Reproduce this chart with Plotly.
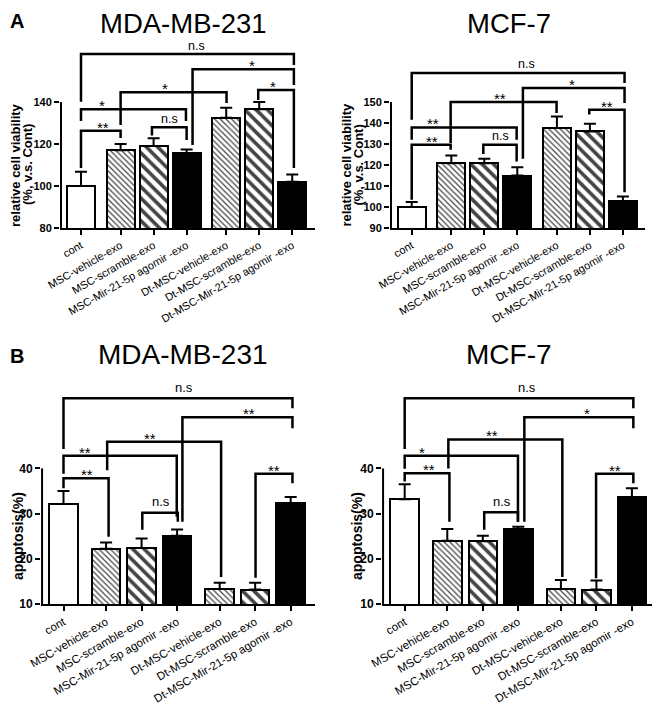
import plotly.graph_objects as go

# ---------------- data ----------------
categories = ["cont", "MSC-vehicle-exo", "MSC-scramble-exo", "MSC-Mir-21-5p agomir -exo",
              "Dt-MSC-vehicle-exo", "Dt-MSC-scramble-exo", "Dt-MSC-Mir-21-5p agomir -exo"]

via_mda_mean = [100, 117, 119, 115.5, 132.5, 136.5, 102]
via_mda_sem = [6.8, 3.0, 3.7, 1.9, 4.8, 3.5, 3.5]
via_mcf_mean = [100, 120.8, 120.8, 115, 137.6, 136, 102.7]
via_mcf_sem = [2.4, 3.7, 2.2, 3.9, 5.5, 3.7, 2.3]
apo_mda_mean = [32.1, 22.2, 22.4, 25.1, 13.3, 13.2, 32.3]
apo_mda_sem = [2.9, 1.4, 2.1, 1.4, 1.4, 1.5, 1.4]
apo_mcf_mean = [33.2, 24.0, 23.9, 26.6, 13.3, 13.2, 33.7]
apo_mcf_sem = [3.3, 2.6, 1.2, 0.5, 2.0, 2.0, 1.9]

yticks_via_mda = [80, 100, 120, 140]
yticks_via_mcf = [90, 100, 110, 120, 130, 140, 150]
yticks_apo = [10, 20, 30, 40]

# significance brackets: (left x, right x, top, left leg end, right leg end, label, label x)
sig_via_mda = [
    (0, 6.45, 162.9, 140.1, 157.6, "n.s", 3.5),
    (3.38, 6.45, 155.6, 119.5, 148.1, "*", 5.17),
    (5.37, 6.45, 145.7, 141.0, 108.6, "*", 5.82),
    (1.2, 4.41, 144.6, 129.0, 139.5, "*", 2.55),
    (0, 3.18, 136.5, 131.0, 131.0, "*", 0.63),
    (0, 1.2, 126.3, 108.6, 122.9, "**", 0.67),
    (2.15, 3.2, 128.0, 124.0, 121.9, "n.s", 2.67),
]
sig_via_mcf = [
    (0, 6.45, 163.8, 141.6, 159.0, "n.s", 3.48),
    (3.37, 6.45, 156.7, 123.0, 149.5, "*", 4.85),
    (5.38, 6.45, 146.3, 144.0, 107.0, "**", 5.91),
    (1.18, 4.39, 150.0, 130.5, 144.8, "**", 2.68),
    (0, 3.18, 137.9, 132.0, 132.0, "**", 0.64),
    (0, 1.18, 129.7, 103.5, 127.3, "**", 0.6),
    (2.17, 3.18, 129.7, 125.2, 121.7, "n.s", 2.68),
]
sig_apo_mda = [
    (0, 6.45, 55.5, 44.3, 53.3, "n.s", 3.4),
    (3.35, 6.45, 51.3, 28.2, 48.9, "**", 5.23),
    (5.41, 6.45, 38.8, 15.8, 36.7, "**", 5.93),
    (1.23, 4.44, 45.9, 39.6, 16.0, "**", 2.44),
    (0, 3.19, 42.8, 38.8, 29.3, "**", 0.61),
    (0, 1.27, 37.8, 35.6, 24.9, "**", 0.65),
    (2.22, 3.22, 30.2, 26.4, 28.2, "n.s", 2.75),
]
sig_apo_mcf = [
    (0, 6.44, 55.5, 44.3, 53.3, "n.s", 3.44),
    (3.37, 6.44, 51.3, 28.2, 48.9, "*", 5.13),
    (5.39, 6.44, 38.8, 15.7, 36.7, "**", 5.92),
    (1.23, 4.44, 46.4, 40.0, 16.0, "**", 2.45),
    (0, 3.19, 42.8, 39.9, 28.2, "*", 0.5),
    (0, 1.26, 38.9, 37.1, 28.2, "**", 0.69),
    (2.24, 3.19, 30.3, 26.4, 28.2, "n.s", 2.74),
]

# ---------------- styling / layout ----------------
PAGE_W, PAGE_H = 660, 705
OFF = 8                       # default page margin of the html body
W, H = PAGE_W - OFF, PAGE_H - OFF
FONT = "Liberation Sans, Arial, sans-serif"
x_pos = [0, 1.2, 2.2, 3.2, 4.4, 5.4, 6.4]


def fx(px):
    return (px - OFF) / W


def fy(py):
    return 1 - (py - OFF) / H


bar_color = ["white", "white", "white", "black", "white", "white", "black"]
pat_shape = ["", "\\", "\\", "", "\\", "\\", ""]
pat_size = [8, 4, 8, 8, 4, 8, 8]
pat_solid = [0.3, 0.3, 0.45, 0.3, 0.3, 0.45, 0.3]

panels = [
    dict(mean=via_mda_mean, sem=via_mda_sem, yticks=yticks_via_mda, sig=sig_via_mda,
         xpx=(60, 315), ypx=(228, 38), xr=[-0.636, 7.09], yr=[80, 170.48], bw=0.85,
         tfs=11, xfs=11, ns_shift=8, ns_size=12.5),
    dict(mean=via_mcf_mean, sem=via_mcf_sem, yticks=yticks_via_mcf, sig=sig_via_mcf,
         xpx=(390, 645), ypx=(228, 38), xr=[-0.658, 7.07], yr=[90, 180.48], bw=0.85,
         tfs=11, xfs=11, ns_shift=9, ns_size=12.5),
    dict(mean=apo_mda_mean, sem=apo_mda_sem, yticks=yticks_apo, sig=sig_apo_mda,
         xpx=(41, 315), ypx=(604, 378), xr=[-0.634, 7.085], yr=[10, 60], bw=0.8,
         tfs=12, xfs=11.5, ns_shift=11, ns_size=13),
    dict(mean=apo_mcf_mean, sem=apo_mcf_sem, yticks=yticks_apo, sig=sig_apo_mcf,
         xpx=(382, 655), ypx=(604, 378), xr=[-0.639, 7.05], yr=[10, 60], bw=0.8,
         tfs=12, xfs=11.5, ns_shift=11, ns_size=13),
]

fig = go.Figure()
shapes = []
annotations = []
layout_axes = {}

for i, p in enumerate(panels, start=1):
    sx = "" if i == 1 else str(i)
    xref, yref = "x" + sx, "y" + sx
    fig.add_trace(go.Bar(
        x=x_pos, y=p["mean"], width=p["bw"], xaxis=xref, yaxis=yref,
        marker=dict(color=bar_color, line=dict(color="black", width=2),
                    pattern=dict(shape=pat_shape, size=pat_size, solidity=pat_solid,
                                 fgcolor="black", fgopacity=1, fillmode="overlay")),
        error_y=dict(type="data", symmetric=False, array=p["sem"],
                     arrayminus=[0] * len(p["sem"]), color="black", thickness=2, width=6),
        showlegend=False, hoverinfo="skip"))

    layout_axes["xaxis" + sx] = dict(
        domain=[fx(p["xpx"][0]), fx(p["xpx"][1])], range=p["xr"], anchor=yref,
        tickmode="array", tickvals=x_pos, ticktext=categories, tickangle=-30,
        ticks="outside", ticklen=5, tickwidth=2, tickcolor="black", automargin=False,
        showline=True, linecolor="black", linewidth=2, showgrid=False, zeroline=False,
        tickfont=dict(family=FONT, size=p["xfs"], color="black"), fixedrange=True)
    layout_axes["yaxis" + sx] = dict(
        domain=[fy(p["ypx"][0]), fy(p["ypx"][1])], range=p["yr"], anchor=xref,
        tickmode="array", tickvals=p["yticks"], ticks="outside", ticklen=5, tickwidth=2,
        tickcolor="black", showline=False, showgrid=False, zeroline=False, automargin=False,
        tickfont=dict(family=FONT, size=p["tfs"], color="black", weight="bold"),
        fixedrange=True)

    # y spine (only up to the top tick)
    xs = p["xr"][0] + 0.03
    shapes.append(dict(type="line", xref=xref, yref=yref, x0=xs, x1=xs,
                       y0=p["yr"][0], y1=max(p["yticks"]),
                       line=dict(color="black", width=2)))

    # significance brackets
    for (x1, x2, top, l1, l2, lab, lx) in p["sig"]:
        shapes.append(dict(type="path", xref=xref, yref=yref,
                           path=f"M {x1},{l1} L {x1},{top} L {x2},{top} L {x2},{l2}",
                           line=dict(color="black", width=2.5)))
        is_ns = lab == "n.s"
        annotations.append(dict(
            x=lx, y=top, xref=xref, yref=yref, text=lab, showarrow=False,
            xanchor="center", yanchor="middle", borderpad=0,
            yshift=p["ns_shift"] if is_ns else 3.5,
            font=dict(family=FONT, size=p["ns_size"] if is_ns else 15, color="black")))


def paper_text(text, px, py, size, bold=False, angle=0):
    annotations.append(dict(
        x=fx(px), y=fy(py), xref="paper", yref="paper", text=text, showarrow=False,
        xanchor="center", yanchor="middle", textangle=angle, borderpad=0,
        font=dict(family=FONT, size=size, color="black", weight="bold" if bold else "normal")))


paper_text("A", 17, 21, 20, bold=True)
paper_text("B", 17, 356, 20, bold=True)
paper_text("MDA-MB-231", 183, 23.5, 27.5)
paper_text("MCF-7", 509, 23.5, 27.5)
paper_text("MDA-MB-231", 183, 355, 28)
paper_text("MCF-7", 509, 355, 28)
for dx in (0, 330.6):
    paper_text("relative cell viability", 16 + dx, 165, 13, bold=True, angle=-90)
    paper_text("(%, v.s. Cont)", 28 + dx, 165, 13, bold=True, angle=-90)
paper_text("apoptosis(%)", 18, 536, 14, bold=True, angle=-90)
paper_text("apoptosis(%)", 357, 536, 14, bold=True, angle=-90)

fig.update_layout(
    template="none",
    width=W, height=H, margin=dict(l=0, r=0, t=0, b=0, autoexpand=False),
    paper_bgcolor="white", plot_bgcolor="rgba(0,0,0,0)", showlegend=False,
    bargap=0, shapes=shapes, annotations=annotations,
    font=dict(family=FONT, color="black"), **layout_axes)

fig.write_html("out.html")
